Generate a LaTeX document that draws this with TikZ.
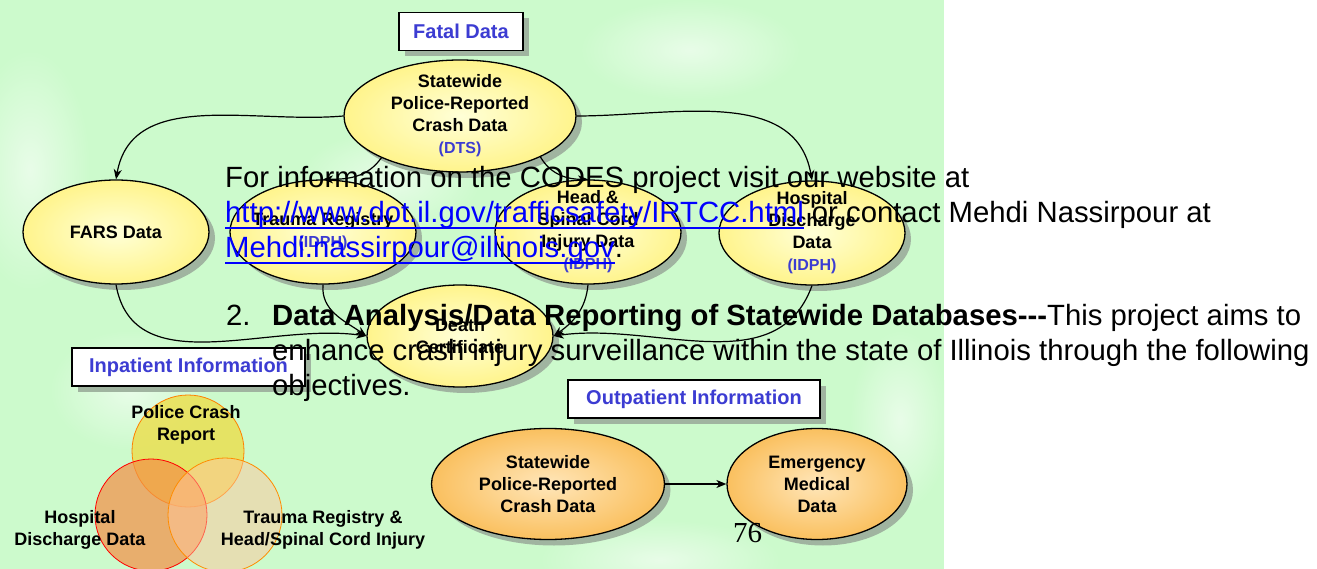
\documentclass[tikz,border=0pt]{standalone}
\usepackage{fontspec}
\setmainfont{Liberation Sans}
\newfontfamily\pagefont{Liberation Serif}
\usetikzlibrary{arrows.meta, shapes, shadows}

\definecolor{bggreen}{RGB}{204,250,204}
\definecolor{bglight}{RGB}{232,252,232}
\definecolor{shgray}{RGB}{160,180,160}
\definecolor{hdblue}{RGB}{60,60,210}
\definecolor{lnkblue}{RGB}{0,0,255}
\definecolor{ylwin}{RGB}{255,255,215}
\definecolor{ylwout}{RGB}{255,244,140}
\definecolor{orgin}{RGB}{255,230,185}
\definecolor{orgout}{RGB}{250,192,95}
\definecolor{vtop}{RGB}{236,222,74}
\definecolor{vleft}{RGB}{244,143,69}
\definecolor{vright}{RGB}{255,198,155}

\tikzset{
  shdw/.style={drop shadow={shadow xshift=6pt, shadow yshift=-6pt, fill=shgray, opacity=1}},
  blob/.style={ellipse, draw, line width=1.3pt, shdw, inner xsep=-6pt, inner ysep=-22pt,
    align=center, font=\fontsize{18}{22}\selectfont\bfseries},
  yblob/.style={blob, shade, inner color=ylwin, outer color=ylwout},
  oblob/.style={blob, shade, inner color=orgin, outer color=orgout},
  tagbox/.style={draw, line width=1.5pt, fill=white, shdw, minimum height=38pt, inner sep=0pt,
    text=hdblue, font=\fontsize{20}{24}\selectfont\bfseries},
  flow/.style={-{Stealth[length=10pt, width=8pt, inset=3pt]}, line width=1.2pt},
  vtxt/.style={align=center, font=\fontsize{18}{22}\selectfont\bfseries},
  doc/.style={anchor=base west, inner sep=0pt, font=\fontsize{29.3}{35}\selectfont},
}
\newcommand{\agency}[1]{{\color{hdblue}\fontsize{16}{20}\selectfont #1}}
\newcommand{\weblink}[1]{{\color{lnkblue}\setbox0\hbox{#1}\rlap{\rule[-6pt]{\wd0}{1.8pt}}\box0}}

\begin{document}
\begin{tikzpicture}[x=1pt, y=1pt]
\useasboundingbox (0,0) rectangle (1317,-569);

% green backdrop
\begin{scope}
\clip (0,0) rectangle (944,-569);
\fill[bggreen] (0,0) rectangle (944,-569);
\foreach \px/\py/\rx/\ry in {30/-170/60/120, 390/-180/90/50, 690/-50/110/50,
                             130/-390/80/60, 660/-560/120/40, 900/-420/50/90}
  \shade[inner color=bglight, outer color=bggreen] (\px,\py) ellipse (\rx pt and \ry pt);
\end{scope}

% fatal data
\node[tagbox, minimum width=124pt] (fatal) at (461,-31.5) {Fatal Data};
\node[yblob, minimum width=232pt, minimum height=112pt] (sw) at (460,-116)
  {Statewide\\Police-Reported\\Crash Data\\\agency{(DTS)}};
\node[yblob, minimum width=186pt, minimum height=104pt] (fars)   at (116,-232) {FARS Data};
\node[yblob, minimum width=186pt, minimum height=104pt] (trauma) at (323,-232) {Trauma Registry\\\agency{(IDPH)}};
\node[yblob, minimum width=186pt, minimum height=104pt] (head)   at (588,-232)
  {Head \&\\Spinal Cord\\Injury Data\\\agency{(IDPH)}};
\node[yblob, minimum width=186pt, minimum height=104pt] (hosp)   at (812,-233)
  {Hospital\\Discharge\\Data\\\agency{(IDPH)}};
\node[yblob, minimum width=186pt, minimum height=102pt] (death)  at (460,-336) {Death\\Certificate};

\draw[flow] (sw.west) to[out=185, in=80] (fars.north);
\draw[flow] (sw.208) to[out=235, in=0] (trauma.north);
\draw[flow] (sw.-27) to[out=-60, in=180] (head.north);
\draw[flow] (sw.east) to[out=0, in=100] (hosp.north);
\draw[flow] (fars.south) to[out=-80, in=172] (death.west);
\draw[flow] (trauma.south) to[out=-95, in=145] (death.west);
\draw[flow] (head.south) to[out=-95, in=35] (death.east);
\draw[flow] (hosp.south) to[out=-110, in=8] (death.east);

% inpatient
\node[tagbox, minimum width=233pt] (inpat) at (188.5,-367) {Inpatient Information};
\fill[vtop, opacity=.8] (188,-451) circle (56pt);
\draw[orange, line width=.8pt] (188,-451) circle (56pt);
\fill[vleft, opacity=.7] (151,-515) circle (56pt);
\draw[red, line width=.8pt] (151,-515) circle (56pt);
\fill[vright, opacity=.5] (225,-515) circle (57pt);
\draw[orange!90!yellow, line width=.8pt] (225,-515) circle (57pt);
\node[vtxt] (vpolice) at (186,-425) {Police Crash\\Report};
\node[vtxt] (vhosp)   at (80,-530)  {Hospital\\Discharge Data};
\node[vtxt] (vtrauma) at (323,-530) {Trauma Registry \&\\Head/Spinal Cord Injury};

% outpatient
\node[tagbox, minimum width=252pt] (outpat) at (694,-399) {Outpatient Information};
\node[oblob, minimum width=233pt, minimum height=111pt] (crash) at (548,-484)
  {Statewide\\Police-Reported\\Crash Data};
\node[oblob, minimum width=180pt, minimum height=111pt] (emerg) at (817,-484)
  {Emergency\\Medical\\Data};
\draw[flow] (crash.east) -- (emerg.west);

\node[anchor=base west, inner sep=0pt, font=\pagefont\fontsize{29}{35}\selectfont] (pnum) at (733,-542) {76};

% page text on top
\node[doc] (t1) at (225,-188) {For information on the CODES project visit our website at};
\node[doc] (t2) at (225,-223) {\weblink{http://www.dot.il.gov/trafficsafety/IRTCC.html} or contact Mehdi Nassirpour at};
\node[doc] (t3) at (225,-258) {\weblink{Mehdi.nassirpour@illinois.gov}.};
\node[doc] (n2) at (226,-325) {2.};
\node[doc] (p1) at (272,-325) {\textbf{Data Analysis/Data Reporting of Statewide Databases-{}-{}-}This project aims to};
\node[doc] (p2) at (272,-360) {enhance crash injury surveillance within the state of Illinois through the following};
\node[doc] (p3) at (272,-395) {objectives.};
\end{tikzpicture}
\end{document}
